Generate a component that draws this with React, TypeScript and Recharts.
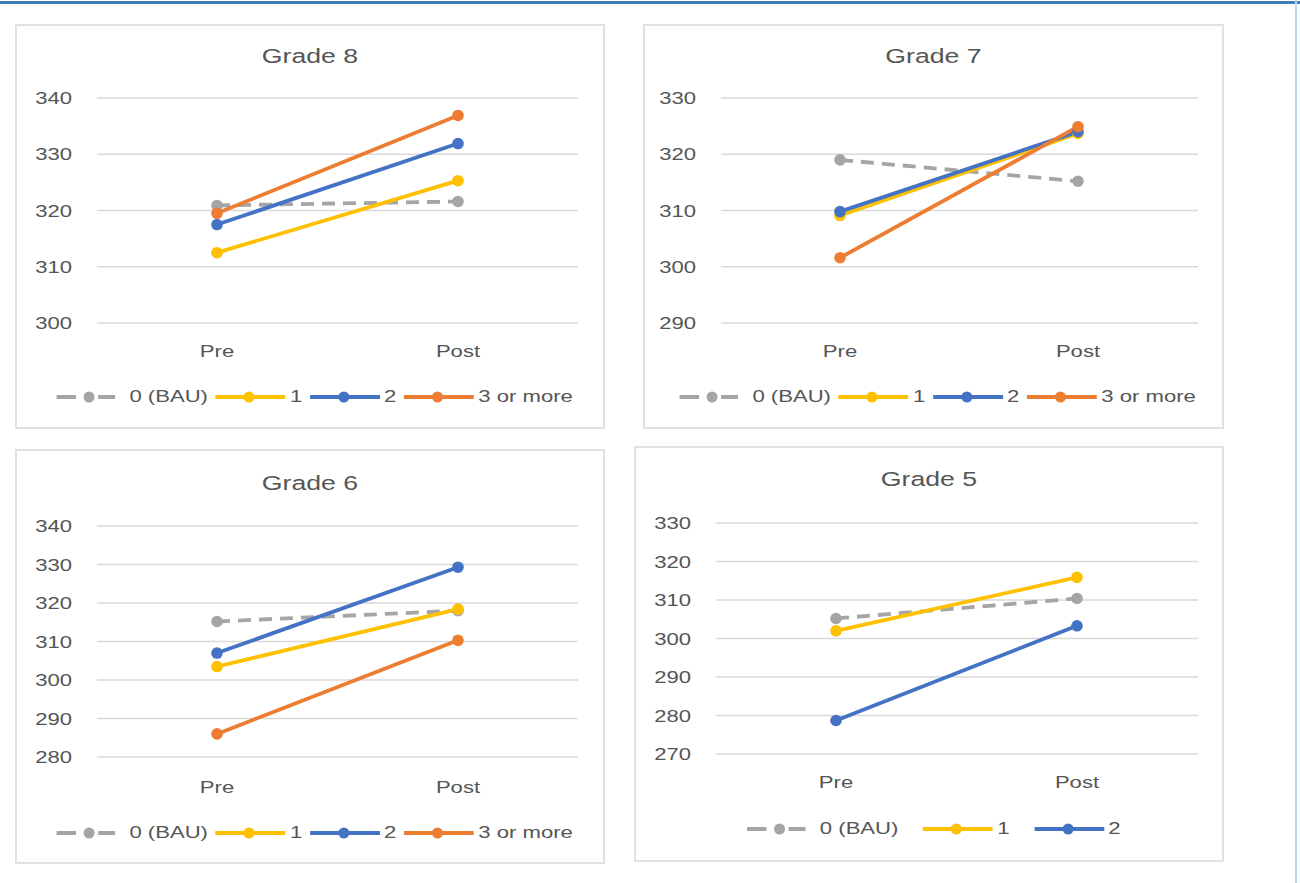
import { CartesianGrid, Line, LineChart, XAxis, YAxis } from "recharts";

const periods = ["Pre", "Post"];
const seriesNames = ["0 (BAU)", "1", "2", "3 or more"];
const seriesColors = ["#A5A5A5", "#FFC000", "#4472C4", "#ED7D31"];

const grade8Bau = [320.9, 321.6];
const grade8One = [312.5, 325.3];
const grade8Two = [317.5, 331.9];
const grade8Three = [319.5, 336.9];

const grade7Bau = [319.0, 315.2];
const grade7One = [309.1, 323.7];
const grade7Two = [309.8, 324.0];
const grade7Three = [301.6, 324.9];

const grade6Bau = [315.2, 318.0];
const grade6One = [303.5, 318.4];
const grade6Two = [307.0, 329.3];
const grade6Three = [286.0, 310.3];

const grade5Bau = [305.2, 310.4];
const grade5One = [302.0, 315.9];
const grade5Two = [278.7, 303.3];

const ticks8 = [300, 310, 320, 330, 340];
const ticks7 = [290, 300, 310, 320, 330];
const ticks6 = [280, 290, 300, 310, 320, 330, 340];
const ticks5 = [270, 280, 290, 300, 310, 320, 330];

// the source picture is stretched sideways, so text is widened to match
const SX = 1.3;
const FONT = "'Liberation Sans', Arial, sans-serif";
const TEXT = "#555555";

function YTick(props: any) {
  const { x, y, payload } = props;
  return (
    <text
      x={x}
      y={y}
      textAnchor="end"
      dominantBaseline="central"
      fontSize={17}
      fontFamily={FONT}
      fill={TEXT}
      transform={`translate(${x} ${y}) scale(${SX} 1) translate(${-x} ${-y})`}
    >
      {payload.value}
    </text>
  );
}

function XTick(props: any) {
  const { x, y, payload } = props;
  return (
    <text
      x={x}
      y={y}
      textAnchor="middle"
      dominantBaseline="central"
      fontSize={17}
      fontFamily={FONT}
      fill={TEXT}
      transform={`translate(${x} ${y}) scale(${SX} 1) translate(${-x} ${-y})`}
    >
      {payload.value}
    </text>
  );
}

function LegendIcon({ index }: { index: number }) {
  const color = seriesColors[index];
  return (
    <svg width={54} height={14} style={{ display: "block" }}>
      {index === 0 ? (
        <>
          <line x1={1} y1={7} x2={16} y2={7} stroke={color} strokeWidth={3.8} />
          <line x1={33} y1={7} x2={46} y2={7} stroke={color} strokeWidth={3.8} />
        </>
      ) : (
        <line x1={0} y1={7} x2={54} y2={7} stroke={color} strokeWidth={3.8} />
      )}
      <ellipse cx={26} cy={7} rx={5.5 / SX} ry={5.5} fill={color} />
    </svg>
  );
}

type PanelProps = {
  title: string;
  left: number;
  top: number;
  width: number;
  height: number;
  plotLeft: number;
  plotRight: number;
  plotTop: number;
  plotHeight: number;
  padLeft: number;
  padRight: number;
  ticks: number[];
  series: number[][];
  titleY: number;
  labelGap: number;
  legendY: number;
  legendGap: number;
};

function Panel(p: PanelProps) {
  const data = periods.map((period, i) => {
    const row: Record<string, string | number> = { period };
    p.series.forEach((values, k) => {
      row[`s${k}`] = values[i];
    });
    return row;
  });
  const xAxisHeight = p.height - p.plotTop - p.plotHeight;

  return (
    <div
      style={{
        position: "absolute",
        left: p.left,
        top: p.top,
        width: p.width,
        height: p.height,
        background: "#fff",
        boxShadow: "inset 0 0 0 2px #e1e1e1",
      }}
    >
      <div
        style={{
          position: "absolute",
          left: 0,
          top: p.titleY - 12,
          width: "100%",
          height: 24,
          lineHeight: "24px",
          textAlign: "center",
          fontFamily: FONT,
          fontSize: 20.5,
          color: TEXT,
          transform: `scaleX(${SX})`,
        }}
      >
        {p.title}
      </div>
      <div style={{ position: "absolute", left: 0, top: 0 }}>
        <LineChart
          width={p.width}
          height={p.height}
          data={data}
          margin={{ top: p.plotTop, right: p.plotRight, bottom: 0, left: 0 }}
        >
          <CartesianGrid vertical={false} stroke="#d9d9d9" strokeWidth={1.5} />
          <XAxis
            dataKey="period"
            height={xAxisHeight}
            padding={{ left: p.padLeft, right: p.padRight }}
            axisLine={false}
            tickLine={false}
            tickSize={0}
            tickMargin={p.labelGap}
            interval={0}
            tick={XTick}
          />
          <YAxis
            width={p.plotLeft}
            domain={[p.ticks[0], p.ticks[p.ticks.length - 1]]}
            ticks={p.ticks}
            interval={0}
            axisLine={false}
            tickLine={false}
            tickSize={0}
            tickMargin={25}
            tick={YTick}
          />
          {p.series.map((_, k) => (
            <Line
              key={k}
              type="linear"
              dataKey={`s${k}`}
              name={seriesNames[k]}
              stroke={seriesColors[k]}
              strokeWidth={3.8}
              strokeDasharray={k === 0 ? "13 8" : undefined}
              dot={{ r: 5.8, fill: seriesColors[k], stroke: "none" }}
              activeDot={false}
              isAnimationActive={false}
            />
          ))}
        </LineChart>
      </div>
      <div
        style={{
          position: "absolute",
          left: 0,
          top: p.legendY - 10,
          width: "100%",
          height: 20,
          display: "flex",
          justifyContent: "center",
        }}
      >
        <div
          style={{
            display: "flex",
            alignItems: "center",
            gap: p.legendGap,
            transform: `translateX(4px) scaleX(${SX})`,
            whiteSpace: "nowrap",
          }}
        >
          {p.series.map((_, k) => (
            <div key={k} style={{ display: "flex", alignItems: "center", gap: 3 }}>
              <LegendIcon index={k} />
              <span style={{ fontFamily: FONT, fontSize: 17, color: TEXT, lineHeight: "20px" }}>
                {seriesNames[k]}
              </span>
            </div>
          ))}
        </div>
      </div>
    </div>
  );
}

export default function App() {
  return (
    <div
      style={{
        position: "absolute",
        left: 0,
        top: 0,
        width: 1300,
        height: 883,
        background: "#fff",
        overflow: "hidden",
      }}
    >
      <div style={{ position: "absolute", left: 0, top: 1, width: 1300, height: 3, background: "#3f7dbb" }} />
      <div style={{ position: "absolute", left: 1295, top: 0, width: 2, height: 883, background: "#b8d4ee" }} />

      <Panel
        title="Grade 8"
        left={15}
        top={24}
        width={590}
        height={405}
        plotLeft={82}
        plotRight={27}
        plotTop={74}
        plotHeight={225}
        padLeft={120}
        padRight={120}
        ticks={ticks8}
        series={[grade8Bau, grade8One, grade8Two, grade8Three]}
        titleY={32}
        labelGap={28}
        legendY={373}
        legendGap={6}
      />
      <Panel
        title="Grade 7"
        left={643}
        top={24}
        width={581}
        height={405}
        plotLeft={78}
        plotRight={26}
        plotTop={74}
        plotHeight={225}
        padLeft={119}
        padRight={120}
        ticks={ticks7}
        series={[grade7Bau, grade7One, grade7Two, grade7Three]}
        titleY={32}
        labelGap={28}
        legendY={373}
        legendGap={6}
      />
      <Panel
        title="Grade 6"
        left={15}
        top={449}
        width={590}
        height={415}
        plotLeft={82}
        plotRight={27}
        plotTop={77}
        plotHeight={231}
        padLeft={120}
        padRight={120}
        ticks={ticks6}
        series={[grade6Bau, grade6One, grade6Two, grade6Three]}
        titleY={34}
        labelGap={30}
        legendY={384}
        legendGap={6}
      />
      <Panel
        title="Grade 5"
        left={634}
        top={446}
        width={590}
        height={416}
        plotLeft={82}
        plotRight={26}
        plotTop={77}
        plotHeight={231}
        padLeft={120}
        padRight={121}
        ticks={ticks5}
        series={[grade5Bau, grade5One, grade5Two]}
        titleY={33}
        labelGap={28}
        legendY={383}
        legendGap={19}
      />
    </div>
  );
}
